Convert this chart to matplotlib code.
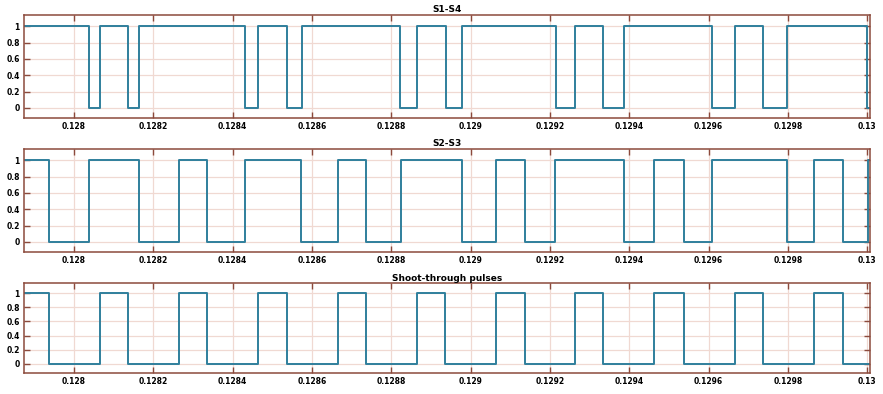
import matplotlib
matplotlib.use("Agg")
import matplotlib.pyplot as plt

# switching instants (s) and the level held after each one
x_start = 0.127874
x_end = 0.130007

s14_t = [x_start, 0.128038, 0.128065, 0.128136, 0.128165, 0.128431, 0.128463,
         0.128536, 0.128574, 0.128822, 0.128864, 0.128937, 0.128979, 0.129215,
         0.129264, 0.129334, 0.129387, 0.129609, 0.129667, 0.129738, 0.129799,
         0.130000, x_end]
s14_v = [1, 0, 1, 0, 1, 0, 1, 0, 1, 0, 1, 0, 1, 0, 1, 0, 1, 0, 1, 0, 1, 0, 0]

s23_t = [x_start, 0.127937, 0.128038, 0.128165, 0.128265, 0.128336, 0.128432,
         0.128573, 0.128665, 0.128737, 0.128824, 0.128979, 0.129065, 0.129137,
         0.129214, 0.129387, 0.129463, 0.129538, 0.129610, 0.129797, 0.129866,
         0.129938, 0.130002, x_end]
s23_v = [1, 0, 1, 0, 1, 0, 1, 0, 1, 0, 1, 0, 1, 0, 1, 0, 1, 0, 1, 0, 1, 0, 1, 1]

st_t = [x_start, 0.127937, 0.128065, 0.128137, 0.128265, 0.128336, 0.128463,
        0.128536, 0.128665, 0.128737, 0.128864, 0.128936, 0.129065, 0.129136,
        0.129264, 0.129334, 0.129463, 0.129538, 0.129666, 0.129737, 0.129866,
        0.129938, x_end]
st_v = [1, 0, 1, 0, 1, 0, 1, 0, 1, 0, 1, 0, 1, 0, 1, 0, 1, 0, 1, 0, 1, 0, 0]

titles = ["S1-S4", "S2-S3", "Shoot-through pulses"]
x_ticks = [0.128, 0.1282, 0.1284, 0.1286, 0.1288, 0.129, 0.1292, 0.1294,
           0.1296, 0.1298, 0.13]
x_labels = ["0.128", "0.1282", "0.1284", "0.1286", "0.1288", "0.129",
            "0.1292", "0.1294", "0.1296", "0.1298", "0.13"]
y_ticks = [0, 0.2, 0.4, 0.6, 0.8, 1]
y_labels = ["0", "0.2", "0.4", "0.6", "0.8", "1"]

line_col = "#2f7f9c"
frame_col = "#8c4a3c"
grid_col = "#f0d9d2"

fig = plt.figure(figsize=(8.83, 3.94), dpi=100)
boxes = [
    [0.0272, 0.7005, 0.958, 0.2614],
    [0.0272, 0.3604, 0.958, 0.2614],
    [0.0272, 0.0540, 0.958, 0.2270],
]
series = [(s14_t, s14_v), (s23_t, s23_v), (st_t, st_v)]

for box, (t, v), title in zip(boxes, series, titles):
    ax = fig.add_axes(box)
    ax.step(t, v, where="post", color=line_col, linewidth=1.4)
    ax.set_xlim(x_start, x_end)
    ax.set_ylim(-0.125, 1.14)
    ax.set_xticks(x_ticks)
    ax.set_xticklabels(x_labels, fontsize=5.5, fontweight="bold")
    ax.set_yticks(y_ticks)
    ax.set_yticklabels(y_labels, fontsize=5.5, fontweight="bold")
    ax.tick_params(direction="in", length=4, width=1, color=frame_col,
                   top=True, right=True, pad=3)
    ax.grid(True, color=grid_col, linewidth=0.9)
    for sp in ax.spines.values():
        sp.set_color(frame_col)
        sp.set_linewidth(1.1)
    ax.set_title(title, fontsize=6.5, fontweight="bold", pad=2)

fig.savefig("out.png", dpi=100)
